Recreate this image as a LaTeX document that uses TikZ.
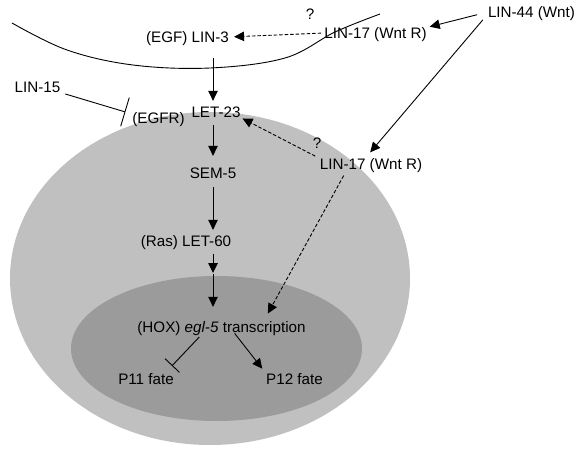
\documentclass[tikz,border=0pt]{standalone}
\usepackage{fontspec}
\setmainfont{Liberation Sans}
\usetikzlibrary{arrows.meta}
\definecolor{outercol}{HTML}{C0C0C0}
\definecolor{innercol}{HTML}{9B9B9B}
\begin{document}
\begin{tikzpicture}[x=1pt,y=-1pt,
  lbl/.style={font=\fontsize{15.2}{18}\selectfont, inner sep=0pt, text height=10.7pt, text depth=0pt},
  arr/.style={draw=black, line width=0.9pt, -{Triangle[length=10pt,width=9.5pt]}},
  darr/.style={arr, dash pattern=on 3.5pt off 2pt},
  inh/.style={draw=black, line width=0.9pt, -{Bar[width=#1, line width=0.9pt]}},
  membrane/.style={draw=black, line width=0.9pt}
]
\useasboundingbox (0,0) rectangle (580,452);
% cell and nucleus
\fill[outercol] (210,278.5) ellipse [x radius=200pt, y radius=166.5pt];
\fill[innercol] (216.5,348.5) ellipse [x radius=145.5pt, y radius=72.5pt];
% labels
\node[lbl] (lin3) at (187.5,37) {(EGF) LIN-3};
\node[lbl] (lin17a) at (375.5,33) {LIN-17 (Wnt R)};
\node[lbl] (lin44) at (531.5,12) {LIN-44 (Wnt)};
\node[lbl] (q1) at (310,14) {?};
\node[lbl] (lin15) at (37.5,87) {LIN-15};
\node[lbl] (egfr) at (158.5,118) {(EGFR)};
\node[lbl] (let23) at (216,112) {LET-23};
\node[lbl] (q2) at (317,143) {?};
\node[lbl] (lin17b) at (371,164) {LIN-17 (Wnt R)};
\node[lbl] (sem5) at (213,173) {SEM-5};
\node[lbl] (let60) at (186,241) {(Ras) LET-60};
\node[lbl] (hox) at (221.5,327) {(HOX) \textit{egl-5} transcription};
\node[lbl] (p11) at (146,379) {P11 fate};
\node[lbl] (p12) at (294.5,379) {P12 fate};
\coordinate (gate) at (213,274);
% membrane curve
\draw[membrane] plot[smooth, tension=0.6] coordinates {(12,23) (67,50) (133,65) (210,68) (285,58) (335,32) (380,14)};
% connectors
\draw[darr, shorten <=3pt, shorten >=5pt] (lin17a.west) -- (lin3.east);
\draw[arr, shorten <=11pt, shorten >=3pt] (lin44.west) -- (lin17a.north east);
\draw[arr, shorten <=3pt, shorten >=8pt] ([xshift=-3pt]lin44.south west) -- ([xshift=-6pt]lin17b.north);
\draw[arr, shorten <=15.6pt, shorten >=5.6pt] (lin3.south -| sem5) -- (let23.north -| sem5);
\draw[inh=30pt, shorten <=5pt, shorten >=7pt] (lin15.south east) -- ([yshift=4pt]egfr.west);
\draw[arr, shorten <=7.6pt, shorten >=11.6pt] (let23.south -| sem5) -- (sem5.north);
\draw[darr, shorten <=5pt, shorten >=2pt] (lin17b.north west) -- (let23.south east);
\draw[arr, shorten <=8.6pt, shorten >=5.6pt] (sem5.south) -- (let60.north -| sem5);
\draw[arr, shorten <=7.6pt, shorten >=1pt] (let60.south -| sem5) -- (gate);
\draw[arr, shorten >=14.6pt] (gate) -- (hox.north -| sem5);
\draw[darr, shorten <=7pt, shorten >=9pt] ([xshift=-24pt]lin17b.south) -- ([xshift=42pt]hox.north);
\draw[inh=20pt, shorten <=6pt] ([xshift=-18pt]hox.south) -- ([shift={(-2pt,7.6pt)}]p11.north east);
\draw[arr, shorten <=1pt, shorten >=6pt] ([xshift=12.5pt]hox.south) -- (p12.north west);
\end{tikzpicture}
\end{document}
